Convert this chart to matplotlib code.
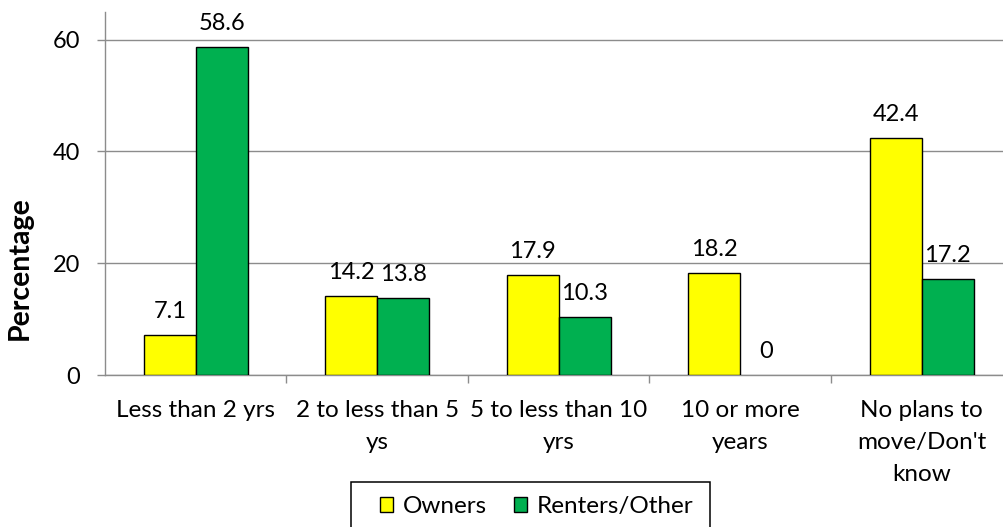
import matplotlib
matplotlib.use("Agg")
import matplotlib.pyplot as plt
from matplotlib.patches import Rectangle, Patch
import numpy as np

categories = ["Less than 2 yrs", "2 to less than 5\nys", "5 to less than 10\nyrs",
              "10 or more\nyears", "No plans to\nmove/Don't\nknow"]
owners = [7.1, 14.2, 17.9, 18.2, 42.4]
renters = [58.6, 13.8, 10.3, 0, 17.2]
series_names = ["Owners", "Renters/Other"]
yticks = [0, 20, 40, 60]

W, H = 1004, 527
FONT = "Lato"
FS = 17.5
FSD = 17
plt.rcParams['font.family'] = [FONT, 'DejaVu Sans']

fig = plt.figure(figsize=(W / 100, H / 100), dpi=100)

def px(x, y):
    return x / W, 1 - y / H

ax_left, ax_right, ax_top, ax_bottom = 105, 105 + 907.5, 11.7, 375
ax = fig.add_axes([ax_left / W, 1 - ax_bottom / H, (ax_right - ax_left) / W, (ax_bottom - ax_top) / H])

x = np.arange(len(categories))
bw = 0.2865
yellow = "#FFFF00"
green = "#00B050"
b1 = ax.bar(x - bw / 2, owners, bw, color=yellow, edgecolor="black",
            linewidth=[1.0 if v else 0 for v in owners], zorder=3)
b2 = ax.bar(x + bw / 2, renters, bw, color=green, edgecolor="black",
            linewidth=[1.0 if v else 0 for v in renters], zorder=3)

for bars, vals in ((b1, owners), (b2, renters)):
    for rect, v in zip(bars, vals):
        ax.annotate(f"{v:g}", (rect.get_x() + rect.get_width() / 2, v),
                    xytext=(0, 12.3), textcoords="offset points",
                    ha="center", va="baseline", fontsize=FSD, color="black")

ax.set_xlim(-0.5, len(categories) - 0.5)
ax.set_ylim(0, 65)

gray = "#8c8c8c"
ax.set_yticks(yticks)
ax.set_yticklabels([str(t) for t in yticks], fontsize=FSD)
ax.yaxis.grid(True, color=gray, linewidth=1.0, zorder=0)
ax.tick_params(axis="y", length=5.8, width=1.0, color=gray, pad=12)

ax.set_xticks(np.arange(len(categories) - 1) + 0.5)
ax.set_xticklabels([])
ax.tick_params(axis="x", which="major", length=5.8, width=1.0, color=gray)
ax.set_xticks(x, minor=True)
ax.set_xticklabels(categories, minor=True, fontsize=FS, linespacing=1.66)
ax.tick_params(axis="x", which="minor", length=0, pad=18)

for s in ("top", "right"):
    ax.spines[s].set_visible(False)
for s in ("left", "bottom"):
    ax.spines[s].set_color(gray)
    ax.spines[s].set_linewidth(1.0)
ax.set_axisbelow(True)

fx, fy = px(20, 268)
fig.text(fx, fy, "Percentage", rotation=90, ha="center", va="center",
         fontsize=20.5, fontweight="bold")

# legend frame
l0, t0 = px(351, 482)
l1, t1 = px(710, 535)
fig.patches.append(Rectangle((l0, t1), l1 - l0, t0 - t1, transform=fig.transFigure,
                             facecolor="white", edgecolor="black", linewidth=1.1, zorder=1))
handles = [Patch(facecolor=yellow, edgecolor="black", linewidth=1.0),
           Patch(facecolor=green, edgecolor="black", linewidth=1.0)]
lx, ly = px(380, 506.5)
fig.legend(handles, series_names, loc="center left", bbox_to_anchor=(lx, ly),
           ncol=2, frameon=False, fontsize=FS, borderpad=0, borderaxespad=0,
           handlelength=0.54, handleheight=0.54, handletextpad=0.41, columnspacing=1.1)

fig.savefig("out.png", dpi=100)
